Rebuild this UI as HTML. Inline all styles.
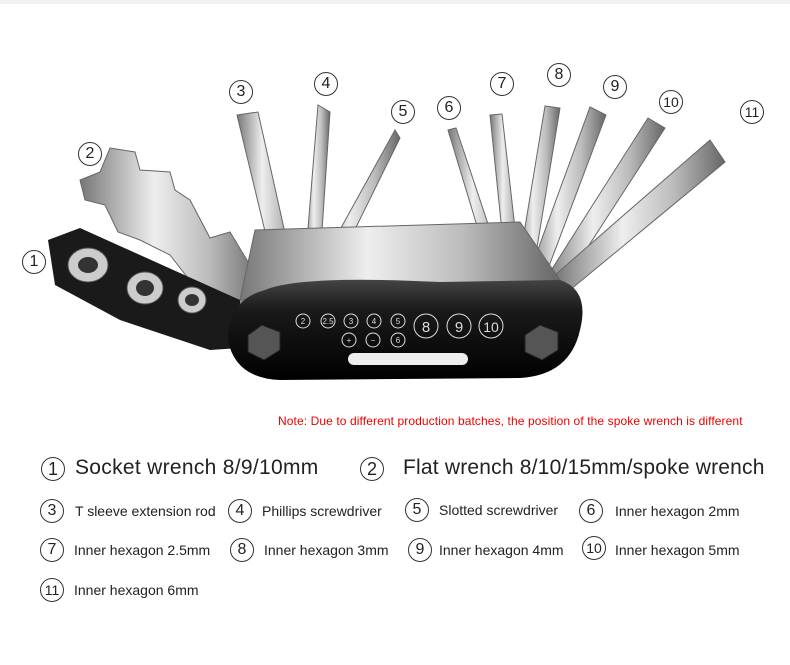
<!DOCTYPE html>
<html><head><meta charset="utf-8"><style>
body{margin:0;width:790px;height:665px;background:#fff;position:relative;overflow:hidden;font-family:"Liberation Sans","Noto Sans CJK SC",sans-serif;color:#222}
.c{position:absolute;border:1.2px solid #333;border-radius:50%;box-sizing:border-box;text-align:center;font-size:16px;line-height:22px;width:24px;height:24px;color:#222}
.t{position:absolute;font-size:14px;white-space:nowrap}
.b{font-size:21px}
</style></head><body>
<div style="position:absolute;left:0;top:0;width:790px;height:4px;background:#f2f2f2"></div>
<svg width="790" height="400" style="position:absolute;left:0;top:0">
<defs>
<linearGradient id="m" x1="0" x2="1"><stop offset="0" stop-color="#777"/><stop offset=".4" stop-color="#eee"/><stop offset=".7" stop-color="#bbb"/><stop offset="1" stop-color="#666"/></linearGradient>
<linearGradient id="k" x1="0" y1="0" x2="0" y2="1"><stop offset="0" stop-color="#444"/><stop offset=".3" stop-color="#1a1a1a"/><stop offset="1" stop-color="#000"/></linearGradient>
</defs>
<g fill="url(#m)" stroke="#666" stroke-width="1">
<polygon points="237,115 258,112 300,300 282,302"/>
<polygon points="318,105 330,112 318,290 303,290"/>
<polygon points="395,130 400,138 330,280 315,275"/>
<polygon points="448,130 456,128 510,290 497,292"/>
<polygon points="490,115 502,114 522,290 508,290"/>
<polygon points="545,106 560,108 530,290 515,288"/>
<polygon points="590,107 606,115 540,290 525,285"/>
<polygon points="648,118 665,128 560,290 545,280"/>
<polygon points="710,140 725,162 570,290 555,275"/>
<polygon points="110,148 135,152 140,170 170,172 175,190 190,200 210,238 230,232 265,290 240,315 220,320 205,300 170,255 140,240 118,232 105,205 85,200 80,180 100,172"/>
<polygon points="255,230 520,222 560,280 240,300"/>
</g>
<polygon points="48,240 80,228 240,300 240,348 210,350 120,320 55,285" fill="#1a1a1a"/>
<g fill="#ccc" stroke="#555"><ellipse cx="88" cy="265" rx="20" ry="17"/><ellipse cx="145" cy="288" rx="18" ry="16"/><ellipse cx="192" cy="300" rx="14" ry="13"/></g>
<g fill="#333"><ellipse cx="88" cy="265" rx="10" ry="8"/><ellipse cx="145" cy="288" rx="9" ry="8"/><ellipse cx="192" cy="300" rx="7" ry="6"/></g>
<path d="M265,290 Q300,275 440,282 L560,280 Q590,290 580,330 Q570,375 520,378 L280,380 Q235,378 228,340 Q228,300 265,290Z" fill="url(#k)"/>
<rect x="348" y="353" width="120" height="12" rx="6" fill="#eee"/>
<g fill="#555" stroke="#222"><polygon points="248,335 262,325 280,332 280,350 264,360 248,352"/><polygon points="525,335 540,325 558,332 558,350 542,360 525,352"/></g>
<g fill="none" stroke="#ddd" font-family="Liberation Sans" font-size="8" text-anchor="middle">
<circle cx="303" cy="321" r="7"/><circle cx="328" cy="321" r="7"/><circle cx="351" cy="321" r="7"/><circle cx="374" cy="321" r="7"/><circle cx="398" cy="321" r="7"/>
<circle cx="349" cy="340" r="7"/><circle cx="373" cy="340" r="7"/><circle cx="398" cy="340" r="7"/>
<circle cx="426" cy="326" r="12"/><circle cx="459" cy="326" r="12"/><circle cx="491" cy="326" r="12"/>
</g>
<g fill="#ddd" font-family="Liberation Sans" text-anchor="middle" font-size="8">
<text x="303" y="324">2</text><text x="328" y="324">2.5</text><text x="351" y="324">3</text><text x="374" y="324">4</text><text x="398" y="324">5</text>
<text x="349" y="343">+</text><text x="373" y="343">−</text><text x="398" y="343">6</text>
<text x="426" y="332" font-size="15">8</text><text x="459" y="332" font-size="15">9</text><text x="491" y="332" font-size="14">10</text>
</g>
</svg>
<div class="c" style="left:22px;top:250px">1</div>
<div class="c" style="left:78px;top:142px">2</div>
<div class="c" style="left:229px;top:80px">3</div>
<div class="c" style="left:314px;top:72px">4</div>
<div class="c" style="left:391px;top:100px">5</div>
<div class="c" style="left:437px;top:96px">6</div>
<div class="c" style="left:490px;top:72px">7</div>
<div class="c" style="left:547px;top:63px">8</div>
<div class="c" style="left:603px;top:75px">9</div>
<div class="c" style="left:659px;top:90px;font-size:14px">10</div>
<div class="c" style="left:740px;top:100px;font-size:14px">11</div>
<div class="t" style="left:278px;top:414px;font-size:12px;color:#e00;letter-spacing:0.1px">Note: Due to different production batches, the position of the spoke wrench is different</div>
<div class="c" style="left:41px;top:457px;font-size:18px">1</div><div class="t b" style="left:75px;top:456px;letter-spacing:0.3px">Socket wrench 8/9/10mm</div>
<div class="c" style="left:360px;top:457px;font-size:18px">2</div><div class="t b" style="left:403px;top:456px;letter-spacing:0.2px">Flat wrench 8/10/15mm/spoke wrench</div>
<div class="c" style="left:40px;top:499px">3</div><div class="t" style="left:75px;top:503px">T sleeve extension rod</div>
<div class="c" style="left:228px;top:499px">4</div><div class="t" style="left:262px;top:503px">Phillips screwdriver</div>
<div class="c" style="left:405px;top:498px">5</div><div class="t" style="left:439px;top:502px">Slotted screwdriver</div>
<div class="c" style="left:579px;top:499px">6</div><div class="t" style="left:615px;top:503px">Inner hexagon 2mm</div>
<div class="c" style="left:40px;top:538px">7</div><div class="t" style="left:74px;top:542px">Inner hexagon 2.5mm</div>
<div class="c" style="left:230px;top:538px">8</div><div class="t" style="left:264px;top:542px">Inner hexagon 3mm</div>
<div class="c" style="left:408px;top:538px">9</div><div class="t" style="left:439px;top:542px">Inner hexagon 4mm</div>
<div class="c" style="left:582px;top:536px;font-size:14px">10</div><div class="t" style="left:615px;top:542px">Inner hexagon 5mm</div>
<div class="c" style="left:40px;top:578px;font-size:14px">11</div><div class="t" style="left:74px;top:582px">Inner hexagon 6mm</div>
</body></html>
